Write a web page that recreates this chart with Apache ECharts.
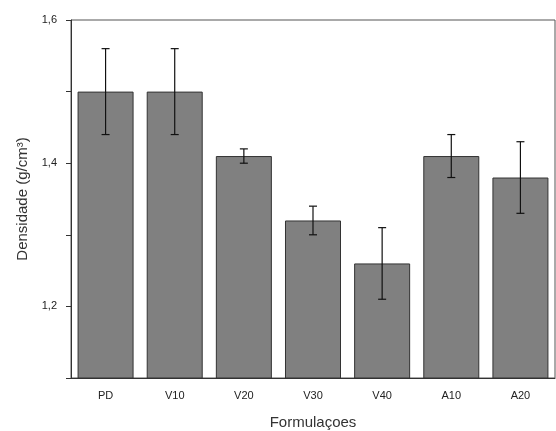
<!DOCTYPE html>
<html>
<head>
<meta charset="utf-8">
<script src="https://cdn.jsdelivr.net/npm/echarts@6/dist/echarts.min.js"></script>
<style>
  html, body { margin: 0; padding: 0; background: #fff; }
  #chart { width: 556px; height: 431px; }
</style>
</head>
<body>
<div id="chart"></div>
<script>
const categories = ["PD", "V10", "V20", "V30", "V40", "A10", "A20"];
const densidade = [1.5, 1.5, 1.41, 1.32, 1.26, 1.41, 1.38];
const erroInf = [1.44, 1.44, 1.40, 1.30, 1.21, 1.38, 1.33];
const erroSup = [1.56, 1.56, 1.42, 1.34, 1.31, 1.44, 1.43];

const chart = echarts.init(document.getElementById("chart"));

const errorData = categories.map((c, i) => [i, erroInf[i], erroSup[i]]);

const option = {
    animation: false,
    grid: {
        left: 71, right: 1, top: 20, bottom: 53,
        outerBoundsMode: "none",
        show: true, borderColor: "#555", borderWidth: 1, backgroundColor: "transparent"
    },
    xAxis: [
        {
            type: "category",
            data: categories,
            name: "Formulaçoes",
            nameLocation: "middle",
            nameGap: 37,
            nameTextStyle: { fontFamily: "Liberation Sans", fontSize: 15, color: "#333" },
            axisLine: { lineStyle: { color: "#333" } },
            axisTick: { alignWithLabel: true, length: 5, lineStyle: { color: "#333" } },
            axisLabel: { fontFamily: "Liberation Sans", fontSize: 11, color: "#222", margin: 12 }
        },
        {
            type: "category",
            data: categories,
            position: "bottom",
            axisLine: { show: false },
            axisTick: { length: 3, lineStyle: { color: "#333" } },
            axisLabel: { show: false }
        }
    ],
    yAxis: {
        type: "value",
        min: 1.1,
        max: 1.6,
        interval: 0.1,
        name: "Densidade (g/cm³)",
        nameLocation: "middle",
        nameGap: 41,
        nameTextStyle: { fontFamily: "Liberation Sans", fontSize: 15, color: "#333" },
        axisLine: { show: true, lineStyle: { color: "#333" } },
        axisTick: { show: true, length: 5, lineStyle: { color: "#333" } },
        splitLine: { show: false },
        axisLabel: {
            fontFamily: "Liberation Sans", fontSize: 11, color: "#222", margin: 14,
            formatter: v => {
                const r = Math.round(v * 10);
                return r % 2 === 0 ? (r / 10).toFixed(1).replace(".", ",") : "";
            }
        }
    },
    series: [
        {
            type: "bar",
            data: densidade,
            barCategoryGap: "19%",
            itemStyle: { color: "#808080", borderColor: "#333", borderWidth: 1 }
        },
        {
            type: "custom",
            data: errorData,
            z: 5,
            renderItem: (params, api) => {
                const x = api.value(0);
                const lo = api.coord([x, api.value(1)]);
                const hi = api.coord([x, api.value(2)]);
                const w = 4;
                const style = { stroke: "#111", lineWidth: 1.2 };
                return {
                    type: "group",
                    children: [
                        { type: "line", shape: { x1: hi[0], y1: hi[1], x2: lo[0], y2: lo[1] }, style },
                        { type: "line", shape: { x1: hi[0] - w, y1: hi[1], x2: hi[0] + w, y2: hi[1] }, style },
                        { type: "line", shape: { x1: lo[0] - w, y1: lo[1], x2: lo[0] + w, y2: lo[1] }, style }
                    ]
                };
            }
        }
    ]
};

chart.setOption(option);
</script>
</body>
</html>
